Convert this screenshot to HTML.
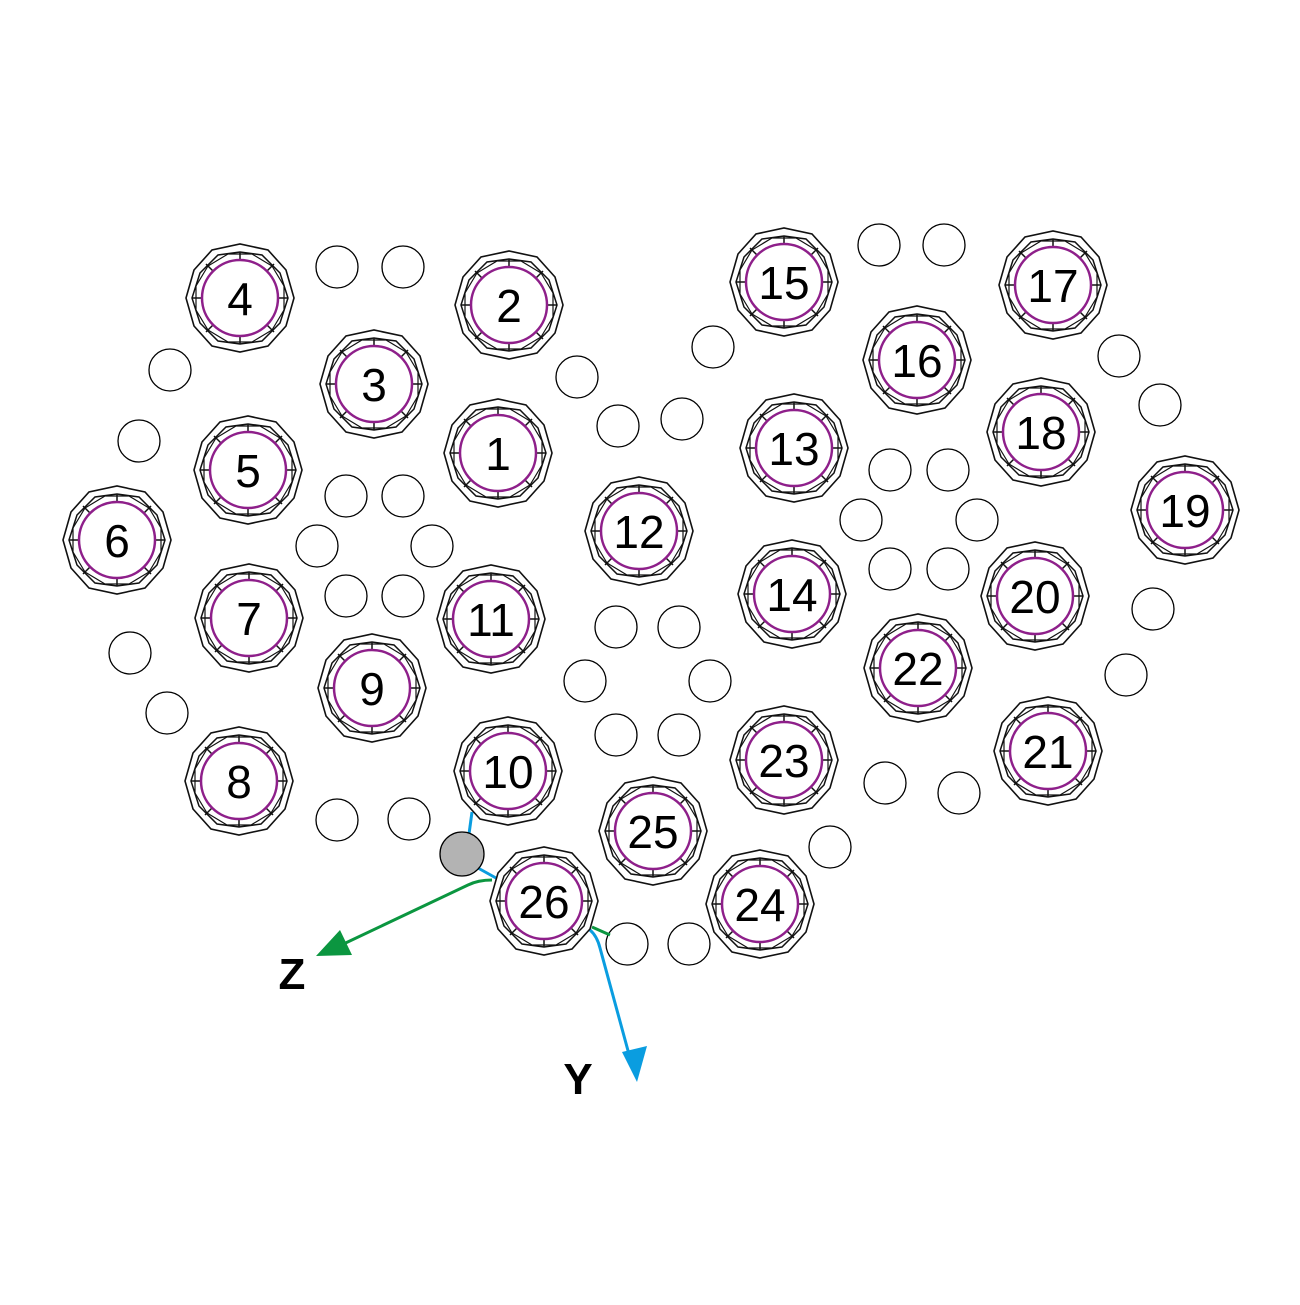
<!DOCTYPE html>
<html><head><style>html,body{margin:0;padding:0;background:#fff}</style></head>
<body>
<svg width="1300" height="1300" viewBox="0 0 1300 1300" xmlns="http://www.w3.org/2000/svg">
<defs>
<g id="f">
<polygon points="54,0 46,28 28,48 0,54 -28,48 -46,28 -54,0 -46,-28 -28,-48 0,-54 28,-48 46,-28" fill="#fff" stroke="#111" stroke-width="1.6"/>
<polygon points="48,0 40,25 22,43 0,46 -22,43 -40,25 -48,0 -40,-25 -22,-43 0,-46 22,-43 40,-25" fill="none" stroke="#111" stroke-width="1.5"/>
<polygon points="44,12 32,32 12,44 -12,44 -32,32 -44,12 -44,-12 -32,-32 -12,-44 12,-44 32,-32 44,-12" fill="none" stroke="#111" stroke-width="1.2"/>
<g stroke="#111" stroke-width="1.5">
<line x1="38" y1="0" x2="48" y2="0"/><line x1="-38" y1="0" x2="-48" y2="0"/>
<line x1="0" y1="38" x2="0" y2="46"/><line x1="0" y1="-38" x2="0" y2="-46"/>
<line x1="27" y1="27" x2="34" y2="34"/><line x1="-27" y1="27" x2="-34" y2="34"/>
<line x1="27" y1="-27" x2="34" y2="-34"/><line x1="-27" y1="-27" x2="-34" y2="-34"/>
</g>
<circle r="38" fill="#fff" stroke="#8e1f8a" stroke-width="2.5"/>
</g>
</defs>
<g fill="#fff" stroke="#000" stroke-width="1.3">
<circle cx="337" cy="267" r="21"/><circle cx="403" cy="267" r="21"/><circle cx="170" cy="370" r="21"/><circle cx="577" cy="377" r="21"/><circle cx="713" cy="347" r="21"/><circle cx="879" cy="245" r="21"/><circle cx="944" cy="245" r="21"/><circle cx="1119" cy="356" r="21"/><circle cx="1160" cy="405" r="21"/><circle cx="139" cy="441" r="21"/><circle cx="618" cy="426" r="21"/><circle cx="682" cy="419" r="21"/><circle cx="346" cy="496" r="21"/><circle cx="403" cy="496" r="21"/><circle cx="890" cy="470" r="21"/><circle cx="948" cy="470" r="21"/><circle cx="317" cy="546" r="21"/><circle cx="432" cy="546" r="21"/><circle cx="861" cy="520" r="21"/><circle cx="977" cy="520" r="21"/><circle cx="890" cy="569" r="21"/><circle cx="948" cy="569" r="21"/><circle cx="346" cy="596" r="21"/><circle cx="403" cy="596" r="21"/><circle cx="1153" cy="609" r="21"/><circle cx="130" cy="653" r="21"/><circle cx="616" cy="627" r="21"/><circle cx="679" cy="627" r="21"/><circle cx="585" cy="681" r="21"/><circle cx="710" cy="681" r="21"/><circle cx="1126" cy="675" r="21"/><circle cx="167" cy="713" r="21"/><circle cx="616" cy="735" r="21"/><circle cx="679" cy="735" r="21"/><circle cx="885" cy="783" r="21"/><circle cx="959" cy="793" r="21"/><circle cx="337" cy="820" r="21"/><circle cx="409" cy="819" r="21"/><circle cx="830" cy="847" r="21"/><circle cx="627" cy="944" r="21"/><circle cx="689" cy="944" r="21"/>
</g>
<g fill="none" stroke-width="3">
<path d="M472 812 L469 834" stroke="#0a9de0"/>
<path d="M478 868 L496 878" stroke="#0a9de0"/>
<path d="M492 880 Q478 880 468 885 L335 948" stroke="#0b9640"/>
<path d="M592 927 L610 935" stroke="#0b9640"/>
<path d="M590 930 Q597 936 600 948 L630 1058" stroke="#0a9de0"/>
</g>
<polygon points="316,956 340,930 352,955" fill="#0b9640"/>
<polygon points="637,1082 622,1052 647,1046" fill="#0a9de0"/>
<circle cx="462" cy="854" r="22" fill="#b3b3b3" stroke="#000" stroke-width="1.3"/>
<use href="#f" x="240" y="298"/><use href="#f" x="509" y="305"/><use href="#f" x="374" y="384"/><use href="#f" x="498" y="453"/><use href="#f" x="248" y="470"/><use href="#f" x="117" y="540"/><use href="#f" x="249" y="618"/><use href="#f" x="372" y="688"/><use href="#f" x="491" y="619"/><use href="#f" x="508" y="771"/><use href="#f" x="239" y="781"/><use href="#f" x="639" y="531"/><use href="#f" x="784" y="282"/><use href="#f" x="1053" y="285"/><use href="#f" x="917" y="360"/><use href="#f" x="794" y="448"/><use href="#f" x="1041" y="432"/><use href="#f" x="1185" y="510"/><use href="#f" x="792" y="594"/><use href="#f" x="1035" y="596"/><use href="#f" x="918" y="668"/><use href="#f" x="1048" y="751"/><use href="#f" x="784" y="760"/><use href="#f" x="653" y="831"/><use href="#f" x="760" y="904"/><use href="#f" x="544" y="901"/>
<g font-family="Liberation Sans, sans-serif" font-size="46" text-anchor="middle" fill="#000">
<text x="240" y="315">4</text><text x="509" y="322">2</text><text x="374" y="401">3</text><text x="498" y="470">1</text><text x="248" y="487">5</text><text x="117" y="557">6</text><text x="249" y="635">7</text><text x="372" y="705">9</text><text x="491" y="636">11</text><text x="508" y="788">10</text><text x="239" y="798">8</text><text x="639" y="548">12</text><text x="784" y="299">15</text><text x="1053" y="302">17</text><text x="917" y="377">16</text><text x="794" y="465">13</text><text x="1041" y="449">18</text><text x="1185" y="527">19</text><text x="792" y="611">14</text><text x="1035" y="613">20</text><text x="918" y="685">22</text><text x="1048" y="768">21</text><text x="784" y="777">23</text><text x="653" y="848">25</text><text x="760" y="921">24</text><text x="544" y="918">26</text>
</g>
<g font-family="Liberation Sans, sans-serif" font-size="44" font-weight="bold" text-anchor="middle">
<text x="292" y="989">Z</text><text x="578" y="1094">Y</text>
</g>
</svg>
</body></html>
